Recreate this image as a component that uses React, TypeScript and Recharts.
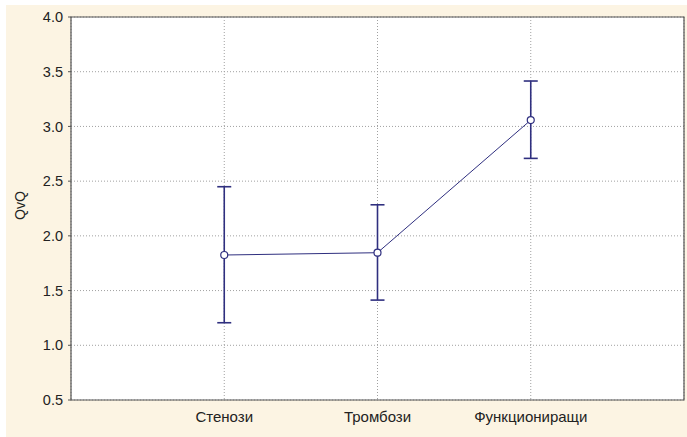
import React from 'react';
import {
  LineChart,
  Line,
  XAxis,
  YAxis,
  CartesianGrid,
  ErrorBar,
  ReferenceArea,
} from 'recharts';

const CATEGORIES = ['Стенози', 'Тромбози', 'Функциониращи'];
const MEANS = [1.825, 1.846, 3.058];
const LOWER = [1.206, 1.413, 2.708];
const UPPER = [2.449, 2.284, 3.415];
const Y_TICKS = [0.5, 1.0, 1.5, 2.0, 2.5, 3.0, 3.5, 4.0];

const INK = '#2f2f7f';
const FONT = 'Arial, "Liberation Sans", sans-serif';

// categories sit at 1..3 on a 0..4 numeric axis so they get equal padding
const data = CATEGORIES.map((name, i) => ({
  x: i + 1,
  name,
  mean: MEANS[i],
  err: [MEANS[i] - LOWER[i], UPPER[i] - MEANS[i]],
}));

const OpenDot = (props: any) => {
  const { cx, cy } = props;
  if (cx == null || cy == null) return null;
  return <circle cx={cx} cy={cy} r={3.5} fill="#fff" stroke={INK} strokeWidth={1.2} />;
};

export default function App() {
  return (
    <div style={{ position: 'absolute', left: 0, top: 0, width: 687, height: 437, background: '#fff' }}>
      <div style={{ position: 'absolute', left: 6, top: 5, width: 681, height: 432, background: '#fcf4e3' }}>
        <LineChart
          width={681}
          height={432}
          data={data}
          margin={{ top: 12, right: 3, left: 0, bottom: 0 }}
        >
          <CartesianGrid fill="#fff" stroke="#a0a0a0" strokeDasharray="1 2" />
          <XAxis
            type="number"
            dataKey="x"
            domain={[0, 4]}
            ticks={[1, 2, 3]}
            tickFormatter={(v: number) => CATEGORIES[v - 1] ?? ''}
            height={37}
            axisLine={false}
            tickLine={false}
            tickMargin={5}
            tick={{ fill: '#222', fontSize: 15, fontFamily: FONT }}
          />
          <YAxis
            domain={[0.5, 4]}
            ticks={Y_TICKS}
            tickFormatter={(v: number) => v.toFixed(1)}
            width={65}
            axisLine={false}
            tickLine={{ stroke: '#555' }}
            tickSize={3}
            tickMargin={5}
            tick={{ fill: '#222', fontSize: 14.5, fontFamily: FONT }}
            label={{
              value: 'QvQ',
              angle: -90,
              position: 'center',
              dx: -18,
              dy: -3,
              fill: '#222',
              fontSize: 14,
              fontFamily: FONT,
            }}
          />
          <ReferenceArea x1={0} x2={4} y1={0.5} y2={4} fill="none" stroke="#555" strokeWidth={1.2} />
          <Line
            type="linear"
            dataKey="mean"
            stroke={INK}
            strokeWidth={1}
            dot={<OpenDot />}
            activeDot={false}
            isAnimationActive={false}
          >
            <ErrorBar dataKey="err" direction="y" width={7} stroke={INK} strokeWidth={1.6} isAnimationActive={false} />
          </Line>
        </LineChart>
      </div>
    </div>
  );
}
